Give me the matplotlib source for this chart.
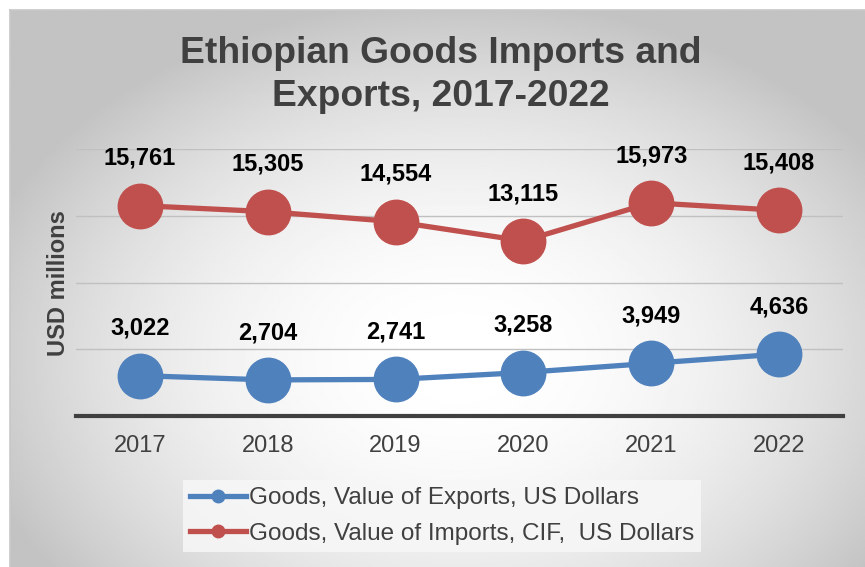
import numpy as np
import matplotlib
matplotlib.use("Agg")
import matplotlib.pyplot as plt
from matplotlib.lines import Line2D

years = ["2017", "2018", "2019", "2020", "2021", "2022"]
exports = [3022, 2704, 2741, 3258, 3949, 4636]
imports = [15761, 15305, 14554, 13115, 15973, 15408]
export_label = "Goods, Value of Exports, US Dollars"
import_label = "Goods, Value of Imports, CIF,  US Dollars"
title = "Ethiopian Goods Imports and\nExports, 2017-2022"

BLUE = "#4F81BD"
RED = "#C0504D"
TEXT = "#404040"

plt.rcParams["font.family"] = ["Liberation Sans", "DejaVu Sans"]

W, H = 865, 567
fig = plt.figure(figsize=(W / 100, H / 100), dpi=100)
fig.patch.set_facecolor("white")

# radial gray gradient backdrop for the chart area
bg = fig.add_axes([10 / W, 0, (W - 10) / W, (H - 10) / H], zorder=0)
gx = np.linspace(-1, 1, 400)
gy = np.linspace(-1, 1, 300)   # row 0 is the top edge
X, Y = np.meshgrid(gx, gy)
cx, cy = 0.05, 0.25
d = np.sqrt(((X - cx) / 1.0) ** 2 + ((Y - cy) / 1.1) ** 2)
val = np.clip(1.0 - 0.17 * d ** 2, 0.765, 1.0)
bg.imshow(val, cmap="gray", vmin=0, vmax=1, aspect="auto",
          extent=[0, 1, 0, 1], interpolation="bilinear")
bg.set_xlim(0, 1)
bg.set_ylim(0, 1)
for s in ["top", "left"]:
    bg.spines[s].set_color("#c8c8c8")
    bg.spines[s].set_linewidth(1.2)
for s in ["bottom", "right"]:
    bg.spines[s].set_visible(False)
bg.set_xticks([])
bg.set_yticks([])

ax = fig.add_axes([76 / W, 1 - 416 / H, 767 / W, 267 / H], zorder=1)
ax.patch.set_alpha(0)
x = np.arange(len(years))

ax.set_xlim(-0.5, len(years) - 0.5)
ax.set_ylim(0, 20000)
ax.set_yticks([5000, 10000, 15000, 20000])
ax.yaxis.grid(True, color="#c0c0c0", linewidth=1.0)
ax.set_axisbelow(True)
ax.tick_params(axis="y", length=0, labelleft=False)
ax.tick_params(axis="x", length=0, labelsize=17, labelcolor=TEXT, pad=14)
ax.set_xticks(x)
ax.set_xticklabels(years)
for s in ["top", "right", "left"]:
    ax.spines[s].set_visible(False)
ax.spines["bottom"].set_color(TEXT)
ax.spines["bottom"].set_linewidth(3)
ax.spines["bottom"].set_zorder(0.5)

ax.plot(x, exports, color=BLUE, linewidth=3.8, marker="o", markersize=32,
        clip_on=False, zorder=3)
ax.plot(x, imports, color=RED, linewidth=3.8, marker="o", markersize=32,
        clip_on=False, zorder=3)

for series in (exports, imports):
    for xi, v in zip(x, series):
        ax.annotate(f"{v:,}", (xi, v), xytext=(0, 34), textcoords="offset points",
                    ha="center", va="center", fontsize=17, fontweight="bold",
                    color="black", zorder=4)

fig.text(441 / W, 1 - 75 / H, title, ha="center", va="center",
         fontsize=26.8, fontweight="bold", color=TEXT, linespacing=1.27)

fig.text(59 / W, 1 - 283 / H, "USD millions", ha="center", va="center",
         rotation=90, fontsize=17, fontweight="bold", color=TEXT)

handles = [
    Line2D([], [], color=BLUE, linewidth=3.8, marker="o", markersize=9),
    Line2D([], [], color=RED, linewidth=3.8, marker="o", markersize=9),
]
leg = fig.legend(handles, [export_label, import_label], loc="center",
                 bbox_to_anchor=(442 / W, 1 - 516 / H), frameon=True,
                 fontsize=17.5, handlelength=2.3, handletextpad=0.1,
                 labelspacing=0.55, borderpad=0.3, fancybox=False)
leg.get_frame().set_facecolor("#f7f7f7")
leg.get_frame().set_alpha(0.85)
leg.get_frame().set_edgecolor("none")
for t in leg.get_texts():
    t.set_color(TEXT)
leg.set_zorder(5)

fig.savefig("out.png", dpi=100)
